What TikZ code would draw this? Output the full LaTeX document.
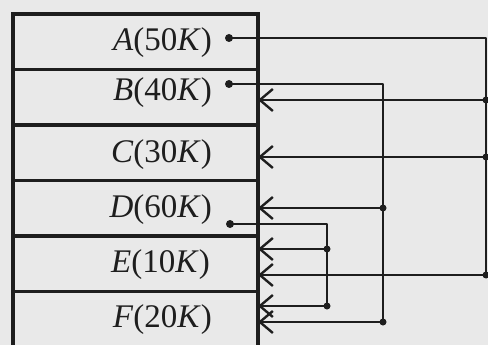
\documentclass[tikz,border=0pt]{standalone}
\usepackage{fontspec}
\setmainfont{Liberation Serif}
\usetikzlibrary{arrows.meta}
\definecolor{paper}{RGB}{233,233,233}
\definecolor{ink}{RGB}{30,30,30}
\begin{document}
\begin{tikzpicture}[x=1pt,y=-1pt,
  row/.style={draw=ink,line width=3.2pt,minimum width=245pt,minimum height=55.5pt,inner sep=0pt,outer sep=0pt,anchor=north west},
  lab/.style={anchor=east,font=\fontsize{33}{38}\selectfont,text=ink,inner sep=0pt},
  wire/.style={draw=ink,line width=2.8pt,line join=round,line cap=round},
  arr/.style={wire,-{Straight Barb[length=13pt,width=22pt,line width=2.4pt]}},
  dot/.style={circle,fill=ink,inner sep=0pt,minimum size=8pt},
  jdot/.style={circle,fill=ink,inner sep=0pt,minimum size=7pt}]
\fill[paper] (0,0) rectangle (488,345);
\useasboundingbox (0,0) rectangle (488,345);
% memory blocks
\node[row] (a) at (13,14) {};
\node[row] (b) at (13,69.5) {};
\node[row] (c) at (13,125) {};
\node[row] (d) at (13,180.5) {};
\node[row] (e) at (13,236) {};
\node[row] (f) at (13,291.5) {};
% labels
\node[lab] (la) at (212,43) {\textit{A}(50\textit{K})};
\node[lab] (lb) at (212,93) {\textit{B}(40\textit{K})};
\node[lab] (lc) at (212,155) {\textit{C}(30\textit{K})};
\node[lab] (ld) at (212,210) {\textit{D}(60\textit{K})};
\node[lab] (le) at (210,265) {\textit{E}(10\textit{K})};
\node[lab] (lf) at (212,320) {\textit{F}(20\textit{K})};
% pointer origins
\node[dot] (da) at (229,38) {};
\node[dot] (db) at (229,84) {};
\node[dot] (dd) at (230,224) {};
% junctions
\node[jdot] (jAB) at (486,100) {};
\node[jdot] (jAC) at (486,157) {};
\node[jdot] (jAE) at (486,275) {};
\node[jdot] (jBD) at (383,208) {};
\node[jdot] (jBF) at (383,322) {};
\node[jdot] (jDE) at (327,249) {};
\node[jdot] (jDF) at (327,306) {};
% A -> B, C, E
\draw[wire] (da.center) -- (da.center -| jAB.center) -- (jAE.center);
\draw[arr] (jAB.center) -- (jAB.center -| b.east);
\draw[arr] (jAC.center) -- (jAC.center -| c.east);
\draw[arr] (jAE.center) -- (jAE.center -| e.east);
% B -> D, F
\draw[wire] (db.center) -- (db.center -| jBD.center) -- (jBF.center);
\draw[arr] (jBD.center) -- (jBD.center -| d.east);
\draw[arr] (jBF.center) -- (jBF.center -| f.east);
% D -> E, F
\draw[wire] (dd.center) -- (dd.center -| jDE.center) -- (jDF.center);
\draw[arr] (jDE.center) -- (jDE.center -| e.east);
\draw[arr] (jDF.center) -- (jDF.center -| f.east);
\end{tikzpicture}
\end{document}
